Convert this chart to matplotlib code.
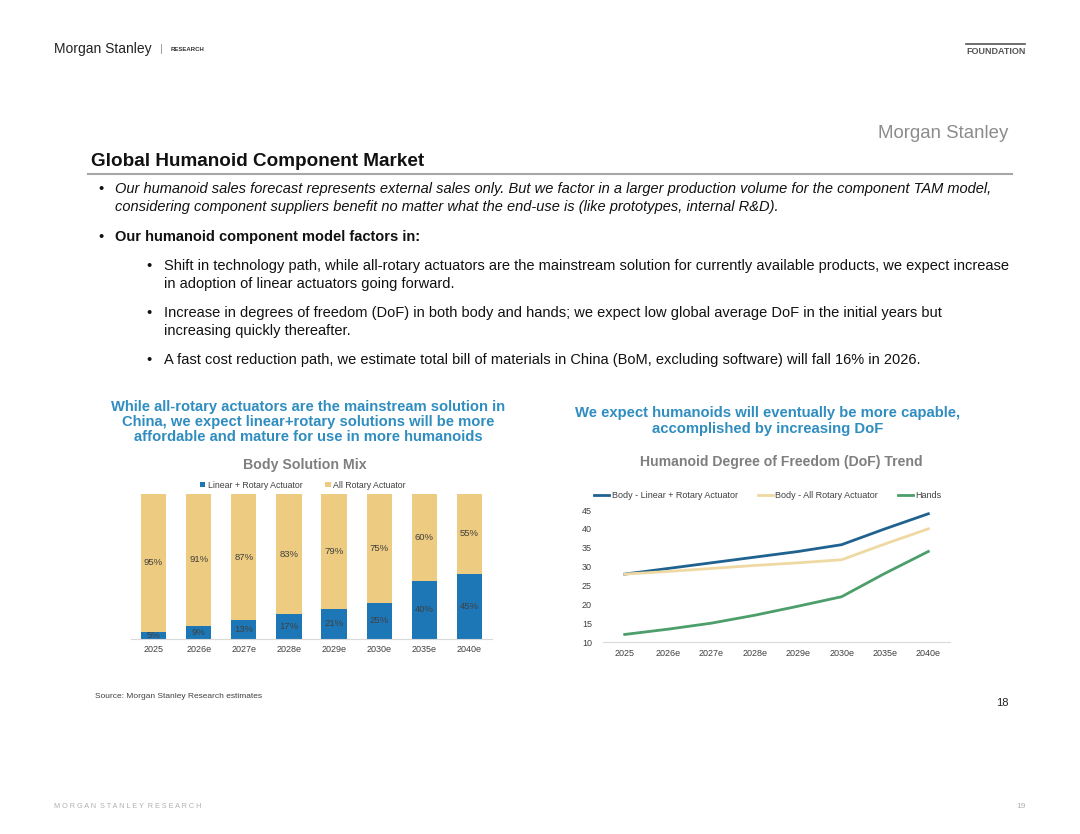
import matplotlib
matplotlib.use("Agg")
import matplotlib.pyplot as plt
from matplotlib.lines import Line2D

plt.rcParams['font.family'] = ['Liberation Sans', 'DejaVu Sans']

# ---------------- data ----------------
years = ["2025", "2026e", "2027e", "2028e", "2029e", "2030e", "2035e", "2040e"]
linear_rotary = [5, 9, 13, 17, 21, 25, 40, 45]
all_rotary = [95, 91, 87, 83, 79, 75, 60, 55]

dof_body_linear = [28, 29.5, 31, 32.5, 34, 35.8, 40, 44]
dof_body_rotary = [28, 28.7, 29.5, 30.3, 31, 31.8, 36, 40]
dof_hands = [12, 13.4, 15, 17.1, 19.5, 22, 28.2, 34]
dof_ticks = [10, 15, 20, 25, 30, 35, 40, 45]

# ---------------- colours ----------------
BAR_BLUE = "#1D77B6"
BAR_YEL = "#EDCB80"
LN_BLUE = "#1F628F"
LN_YEL = "#EFD9A2"
LN_GREEN = "#4C9E6A"
HEAD_BLUE = "#2F8DC0"
GREY_T = "#7F7F7F"
TXT = "#404040"

W, H = 1080, 834
fig = plt.figure(figsize=(W / 100, H / 100), dpi=100)
fig.patch.set_facecolor("white")


def fx(x):
    return x / W


def fy(y):
    return 1 - y / H


# ---------------- page header ----------------
fig.text(fx(54), fy(49), "Morgan Stanley", fontsize=10, color="#222222", va="center", ha="left")
fig.text(fx(160), fy(49), "|", fontsize=8, color="#999999", va="center", ha="left")
fig.text(fx(171), fy(49.5), "RESEARCH", fontsize=4.3, color="#333333", va="center", ha="left",
         fontweight="bold")
fig.add_artist(Line2D([fx(966), fx(1025)], [fy(44), fy(44)], color="#555555", lw=1.2))
fig.text(fx(966), fy(51), "FOUNDATION", fontsize=6.5, color="#555555", va="center", ha="left",
         fontweight="bold")
fig.text(fx(1008), fy(134), "Morgan Stanley", fontsize=13.4, color="#8C8C8C", va="center", ha="right")

# ---------------- title ----------------
fig.text(fx(91), fy(161), "Global Humanoid Component Market", fontsize=13.6, fontweight="bold",
         color="#111111", va="center", ha="left")
fig.add_artist(Line2D([fx(88), fx(1012)], [fy(174), fy(174)], color="#A6A6A6", lw=1.5))

# ---------------- bullets ----------------
BFS = 10.5
fig.text(fx(98), fy(189), "•", fontsize=BFS, color="#111111", va="center")
fig.text(fx(115), fy(189), "Our humanoid sales forecast represents external sales only. But we factor in a larger "
         "production volume for the component TAM model,", fontsize=BFS, style="italic",
         color="#111111", va="center")
fig.text(fx(115), fy(207), "considering component suppliers benefit no matter what the end-use is "
         "(like prototypes, internal R&D).", fontsize=BFS, style="italic", color="#111111", va="center")
fig.text(fx(98), fy(237), "•", fontsize=BFS, color="#111111", va="center")
fig.text(fx(115), fy(237), "Our humanoid component model factors in:", fontsize=BFS, fontweight="bold",
         color="#111111", va="center")

subs = [
    (266, ["Shift in technology path, while all-rotary actuators are the mainstream solution for currently "
           "available products, we expect increase",
           "in adoption of linear actuators going forward."]),
    (313, ["Increase in degrees of freedom (DoF) in both body and hands; we expect low global average DoF "
           "in the initial years but",
           "increasing quickly thereafter."]),
    (360, ["A fast cost reduction path, we estimate total bill of materials in China (BoM, excluding "
           "software) will fall 16% in 2026."]),
]
for y0, lines in subs:
    fig.text(fx(146), fy(y0), "•", fontsize=BFS, color="#111111", va="center")
    for i, ln in enumerate(lines):
        fig.text(fx(164), fy(y0 + 18 * i), ln, fontsize=BFS, color="#111111", va="center")

# ---------------- chart headings ----------------
fig.text(fx(308), fy(422), "While all-rotary actuators are the mainstream solution in\n"
         "China, we expect linear+rotary solutions will be more\n"
         "affordable and mature for use in more humanoids",
         fontsize=10.6, fontweight="bold", color=HEAD_BLUE, ha="center", va="center", linespacing=1.12)
fig.text(fx(768), fy(421), "We expect humanoids will eventually be more capable,\n"
         "accomplished by increasing DoF",
         fontsize=10.7, fontweight="bold", color=HEAD_BLUE, ha="center", va="center", linespacing=1.12)

fig.text(fx(305), fy(465), "Body Solution Mix", fontsize=10.2, fontweight="bold", color=GREY_T,
         ha="center", va="center")
fig.text(fx(781), fy(462), "Humanoid Degree of Freedom (DoF) Trend", fontsize=10.1, fontweight="bold",
         color=GREY_T, ha="center", va="center")

# ---------------- left chart: stacked bars ----------------
axL = fig.add_axes([fx(131), fy(639), fx(492 - 131), (639 - 494) / H])
xs = list(range(len(years)))
axL.bar(xs, linear_rotary, width=0.56, color=BAR_BLUE, label="Linear + Rotary Actuator")
axL.bar(xs, all_rotary, width=0.56, bottom=linear_rotary, color=BAR_YEL, label="All Rotary Actuator")
for i in xs:
    axL.text(i, linear_rotary[i] / 2, f"{linear_rotary[i]}%", ha="center", va="center",
             fontsize=6.8, color=TXT)
    axL.text(i, linear_rotary[i] + all_rotary[i] / 2, f"{all_rotary[i]}%", ha="center", va="center",
             fontsize=6.8, color=TXT)
axL.set_xlim(-0.5, len(years) - 0.5)
axL.set_ylim(0, 100)
axL.set_xticks(xs)
axL.set_xticklabels(years, fontsize=6.5, color=TXT)
axL.set_yticks([])
for s in ["top", "right", "left"]:
    axL.spines[s].set_visible(False)
axL.spines["bottom"].set_color("#D9D9D9")
axL.tick_params(axis="x", length=0, pad=4)
axL.legend(loc="lower center", bbox_to_anchor=(0.476, 1.0), ncol=2, frameon=False, fontsize=6.3,
           handlelength=0.6, handleheight=0.6, handletextpad=0.3, columnspacing=2.6,
           borderaxespad=0.1, labelcolor=TXT)

# ---------------- right chart: DoF lines ----------------
axR = fig.add_axes([fx(603), fy(642), fx(950 - 603), (642 - 510) / H])
axR.plot(xs, dof_body_linear, color=LN_BLUE, lw=2.0, label="Body - Linear + Rotary Actuator")
axR.plot(xs, dof_body_rotary, color=LN_YEL, lw=2.0, label="Body - All Rotary Actuator")
axR.plot(xs, dof_hands, color=LN_GREEN, lw=2.0, label="Hands")
axR.set_xlim(-0.5, len(years) - 0.5)
axR.set_ylim(10, 45)
axR.set_yticks(dof_ticks)
axR.set_yticklabels([str(t) for t in dof_ticks], fontsize=6.5, color=TXT)
axR.set_xticks(xs)
axR.set_xticklabels(years, fontsize=6.5, color=TXT)
for s in ["top", "right", "left"]:
    axR.spines[s].set_visible(False)
axR.spines["bottom"].set_color("#D9D9D9")
axR.tick_params(axis="x", length=0, pad=5)
axR.tick_params(axis="y", length=0, pad=8)
axR.legend(loc="lower center", bbox_to_anchor=(0.475, 1.04), ncol=3, frameon=False, fontsize=6.5,
           handlelength=1.7, handletextpad=0.25, columnspacing=2.2, borderaxespad=0.1,
           labelcolor=TXT)

# ---------------- footer ----------------
fig.text(fx(95), fy(696), "Source: Morgan Stanley Research estimates", fontsize=6, color=TXT,
         va="center")
fig.text(fx(1009), fy(703), "18", fontsize=8, color="#222222", va="center", ha="right")
fig.text(fx(54), fy(806), "M O R G A N  S T A N L E Y  R E S E A R C H",
         fontsize=5.2, color="#B0B0B0", va="center")
fig.text(fx(1026), fy(806), "19", fontsize=6, color="#B0B0B0", va="center", ha="right")

fig.savefig("out.png", dpi=100, facecolor="white")
